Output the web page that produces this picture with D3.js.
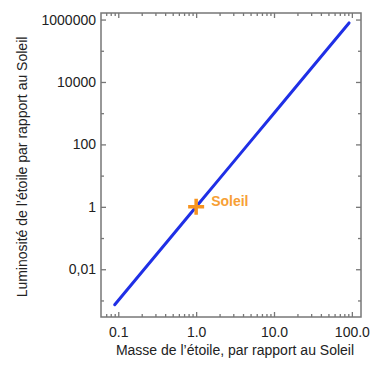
<!DOCTYPE html>
<html>
<head>
<meta charset="utf-8">
<script src="https://cdn.jsdelivr.net/npm/d3@7"></script>
<style>
  body { margin: 0; background: #fff; }
  text { font-family: "Liberation Sans", Arial, sans-serif; }
</style>
</head>
<body>
<div id="chart"></div>
<script>
// masse / luminosite
const masses = [0.09, 0.2, 0.5, 1, 2, 5, 10, 20, 50, 92]
const luminosities = [0.00073, 0.008, 0.125, 1, 8, 125, 1000, 8000, 125000, 780000]

const xMajor = [0.1, 1, 10, 100]
const xLabels = ["0.1", "1.0", "10.0", "100.0"]
const yMajor = [0.01, 1, 100, 10000, 1000000]
const yLabels = ["0,01", "1", "100", "10000", "1000000"]
const yMinor = [0.001, 0.1, 10, 1000, 100000]

const sun = { mass: 1, lum: 1, label: "Soleil" }

const W = 389, H = 374
const margin = { left: 101, top: 13, right: 28, bottom: 57 }
const iw = W - margin.left - margin.right
const ih = H - margin.top - margin.bottom

const svg = d3.select("#chart")
    .append("svg")
    .attr("width", W)
    .attr("height", H)

const g = svg.append("g")
    .attr("transform", `translate(${margin.left}, ${margin.top})`)

const x = d3.scaleLog()
    .domain([0.06, 131])
    .range([0, iw])

const y = d3.scaleLog()
    .domain([Math.pow(10, -3.53), Math.pow(10, 6.21)])
    .range([ih, 0])

// minor x ticks 2..9 of each decade
const xMinor = []
for (let d = 0.01; d <= 100; d *= 10) {
    for (let k = 2; k <= 9; k++) {
        const v = +(d * k).toPrecision(3)
        if (v > 0.06 && v < 131) xMinor.push(v)
    }
}

const axisColor = "#777"

function styleAxis(sel) {
    sel.select(".domain").remove()
    sel.selectAll("line").attr("stroke", axisColor).attr("stroke-width", 1.3)
    sel.selectAll("text")
        .attr("fill", "#222")
        .style("font-size", "14px")
}

// bottom
g.append("g")
    .attr("transform", `translate(0, ${ih})`)
    .call(d3.axisBottom(x).tickValues(xMinor).tickSize(-3).tickFormat(""))
    .call(styleAxis)
g.append("g")
    .attr("transform", `translate(0, ${ih})`)
    .call(d3.axisBottom(x).tickValues(xMajor).tickSizeInner(-5).tickPadding(10)
        .tickFormat((d, i) => xLabels[i]))
    .call(styleAxis)

// top
g.append("g")
    .call(d3.axisTop(x).tickValues(xMinor).tickSize(-3).tickFormat(""))
    .call(styleAxis)
g.append("g")
    .call(d3.axisTop(x).tickValues(xMajor).tickSize(-5).tickFormat(""))
    .call(styleAxis)

// left
g.append("g")
    .call(d3.axisLeft(y).tickValues(yMinor).tickSize(-3).tickFormat(""))
    .call(styleAxis)
g.append("g")
    .call(d3.axisLeft(y).tickValues(yMajor).tickSizeInner(-5).tickPadding(5)
        .tickFormat((d, i) => yLabels[i]))
    .call(styleAxis)
    .selectAll("text").attr("x", -5)

// right
g.append("g")
    .attr("transform", `translate(${iw}, 0)`)
    .call(d3.axisRight(y).tickValues(yMinor).tickSize(-3).tickFormat(""))
    .call(styleAxis)
g.append("g")
    .attr("transform", `translate(${iw}, 0)`)
    .call(d3.axisRight(y).tickValues(yMajor).tickSize(-5).tickFormat(""))
    .call(styleAxis)

// frame
g.append("rect")
    .attr("width", iw)
    .attr("height", ih)
    .attr("fill", "none")
    .attr("stroke", axisColor)
    .attr("stroke-width", 1.5)

// courbe
const data = masses.map((m, i) => ({ m, l: luminosities[i] }))
const line = d3.line()
    .x(d => x(d.m))
    .y(d => y(d.l))

g.append("path")
    .datum(data)
    .attr("d", line)
    .attr("fill", "none")
    .attr("stroke", "#1f2fe6")
    .attr("stroke-width", 3)
    .attr("stroke-linecap", "round")

// Soleil
const sx = x(sun.mass), sy = y(sun.lum)
g.append("path")
    .attr("d", `M${sx - 8},${sy}H${sx + 8}M${sx},${sy - 8}V${sy + 8}`)
    .attr("stroke", "#f7931e")
    .attr("stroke-width", 3.5)
g.append("text")
    .attr("x", sx + 15)
    .attr("y", sy - 1)
    .attr("fill", "#f7a035")
    .style("font-size", "14px")
    .style("font-weight", "bold")
    .text(sun.label)

// titres
svg.append("text")
    .attr("x", 235)
    .attr("y", 355)
    .attr("text-anchor", "middle")
    .attr("fill", "#222")
    .style("font-size", "14px")
    .text("Masse de l’étoile, par rapport au Soleil")

svg.append("text")
    .attr("transform", "translate(27, 167) rotate(-90)")
    .attr("text-anchor", "middle")
    .attr("fill", "#222")
    .style("font-size", "14px")
    .text("Luminosité de l’étoile par rapport au Soleil")
</script>
</body>
</html>
